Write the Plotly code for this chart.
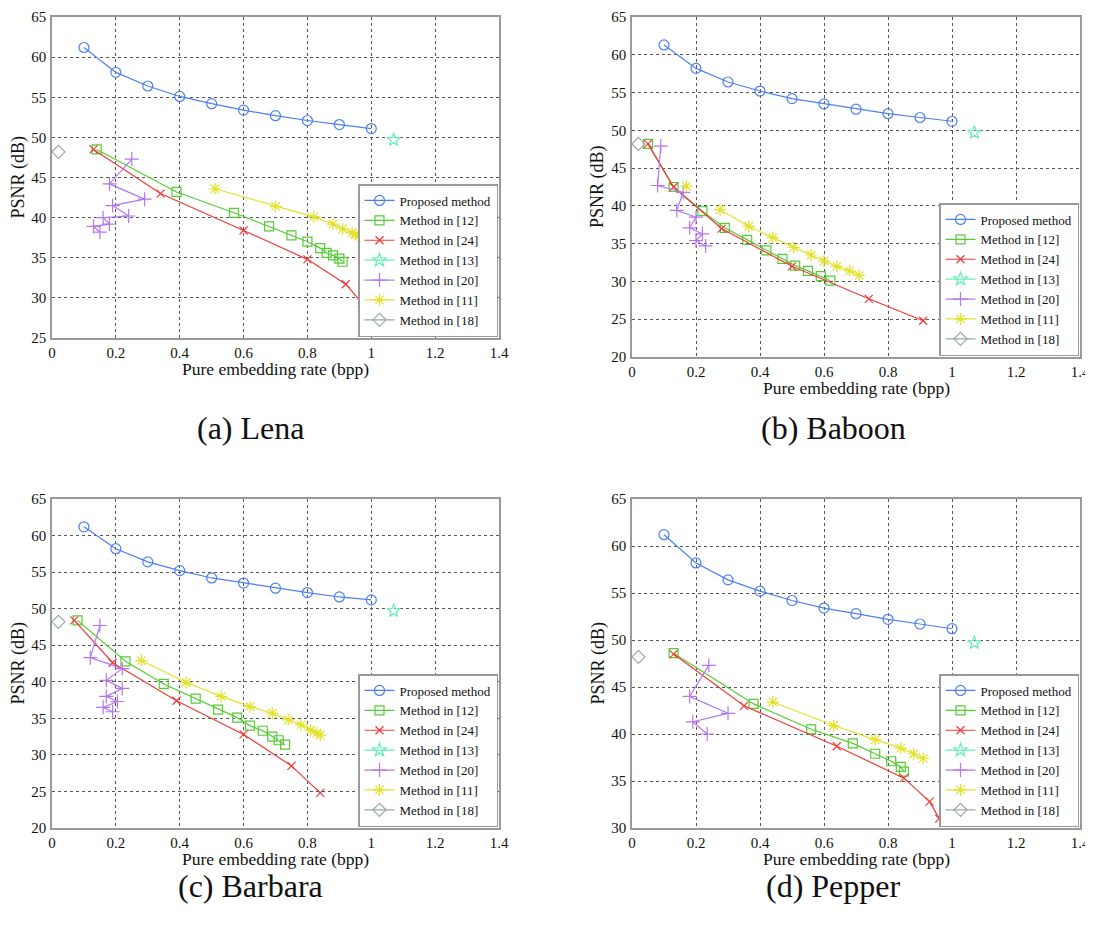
import plotly.graph_objects as go

# ---------------- data ----------------
rate_prop = [0.1, 0.2, 0.3, 0.4, 0.5, 0.6, 0.7, 0.8, 0.9, 1.0]
method_names = ["Proposed method", "Method in [12]", "Method in [24]", "Method in [13]",
                "Method in [20]", "Method in [11]", "Method in [18]"]
captions = ["(a) Lena", "(b) Baboon", "(c) Barbara", "(d) Pepper"]
y_ranges = [[25, 65], [20, 65], [20, 65], [30, 65]]

m13_x = [1.07]
m13_y = [49.7]
m18_x = [0.02]
m18_y = [48.2]

# Lena
lena_prop = [61.2, 58.1, 56.4, 55.1, 54.2, 53.4, 52.7, 52.1, 51.6, 51.1]
lena_m12_x = [0.14, 0.39, 0.57, 0.68, 0.75, 0.80, 0.84, 0.86, 0.88, 0.90, 0.91]
lena_m12_y = [48.5, 43.2, 40.6, 38.9, 37.8, 37.0, 36.2, 35.6, 35.3, 34.9, 34.5]
lena_m24_x = [0.13, 0.34, 0.60, 0.80, 0.92, 0.97]
lena_m24_y = [48.5, 43.0, 38.4, 34.8, 31.7, 29.4]
lena_m20_x = [0.25, 0.18, 0.29, 0.19, 0.24, 0.16, 0.18, 0.13, 0.15]
lena_m20_y = [47.3, 44.2, 42.3, 41.5, 40.2, 40.0, 39.2, 38.9, 38.2]
lena_m11_x = [0.51, 0.70, 0.82, 0.88, 0.91, 0.94, 0.95, 0.96, 0.97, 0.98]
lena_m11_y = [43.6, 41.4, 40.1, 39.2, 38.6, 38.1, 37.9, 37.7, 37.5, 37.3]

# Baboon
bab_prop = [61.3, 58.2, 56.4, 55.2, 54.2, 53.5, 52.8, 52.2, 51.7, 51.2]
bab_m12_x = [0.05, 0.13, 0.22, 0.29, 0.36, 0.42, 0.47, 0.51, 0.55, 0.59, 0.62]
bab_m12_y = [48.2, 42.5, 39.3, 37.1, 35.5, 34.1, 33.0, 32.1, 31.4, 30.7, 30.1]
bab_m24_x = [0.05, 0.13, 0.28, 0.50, 0.74, 0.91]
bab_m24_y = [48.2, 42.5, 37.0, 32.0, 27.7, 24.8]
bab_m20_x = [0.09, 0.08, 0.16, 0.14, 0.20, 0.18, 0.22, 0.20, 0.23]
bab_m20_y = [47.9, 42.7, 41.8, 39.4, 38.5, 37.1, 36.3, 35.4, 34.7]
bab_m11_x = [0.17, None, 0.275, 0.365, 0.44, 0.505, 0.56, 0.60, 0.64, 0.68, 0.71]
bab_m11_y = [42.6, None, 39.5, 37.3, 35.8, 34.5, 33.5, 32.7, 32.0, 31.4, 30.8]

# Barbara
bar_prop = [61.2, 58.2, 56.4, 55.2, 54.2, 53.5, 52.8, 52.2, 51.6, 51.2]
bar_m12_x = [0.08, 0.23, 0.35, 0.45, 0.52, 0.58, 0.62, 0.66, 0.69, 0.71, 0.73]
bar_m12_y = [48.4, 42.8, 39.7, 37.7, 36.2, 35.1, 34.0, 33.3, 32.5, 32.0, 31.4]
bar_m24_x = [0.07, 0.19, 0.39, 0.60, 0.75, 0.84]
bar_m24_y = [48.4, 42.6, 37.4, 32.8, 28.5, 24.8]
bar_m20_x = [0.15, 0.12, 0.22, 0.17, 0.22, 0.17, 0.205, 0.16, 0.19]
bar_m20_y = [47.7, 43.3, 41.8, 40.2, 39.1, 38.0, 37.3, 36.5, 35.9]
bar_m11_x = [0.28, 0.42, 0.53, 0.62, 0.69, 0.74, 0.78, 0.81, 0.83, 0.84]
bar_m11_y = [42.9, 39.9, 38.0, 36.6, 35.7, 34.8, 34.1, 33.4, 33.0, 32.7]

# Pepper
pep_prop = [61.2, 58.2, 56.4, 55.2, 54.2, 53.4, 52.8, 52.2, 51.7, 51.2]
pep_m12_x = [0.13, 0.38, 0.56, 0.69, 0.76, 0.81, 0.84, 0.85]
pep_m12_y = [48.6, 43.2, 40.5, 39.0, 37.9, 37.1, 36.5, 36.0]
pep_m24_x = [0.13, 0.35, 0.64, 0.85, 0.93, 0.96]
pep_m24_y = [48.5, 43.0, 38.7, 35.3, 32.8, 31.0]
pep_m20_x = [0.24, 0.18, 0.30, 0.19, 0.235]
pep_m20_y = [47.3, 44.0, 42.2, 41.3, 40.0]
pep_m11_x = [0.44, 0.63, 0.76, 0.84, 0.88, 0.91]
pep_m11_y = [43.4, 40.9, 39.4, 38.5, 37.9, 37.4]

panels = [
    (lena_prop, lena_m12_x, lena_m12_y, lena_m24_x, lena_m24_y, lena_m20_x, lena_m20_y, lena_m11_x, lena_m11_y),
    (bab_prop, bab_m12_x, bab_m12_y, bab_m24_x, bab_m24_y, bab_m20_x, bab_m20_y, bab_m11_x, bab_m11_y),
    (bar_prop, bar_m12_x, bar_m12_y, bar_m24_x, bar_m24_y, bar_m20_x, bar_m20_y, bar_m11_x, bar_m11_y),
    (pep_prop, pep_m12_x, pep_m12_y, pep_m24_x, pep_m24_y, pep_m20_x, pep_m20_y, pep_m11_x, pep_m11_y),
]

# ---------------- styles ----------------
W, H = 1093, 937
OFF = 8  # page body margin of the browser
FONT = "Liberation Serif"
colors = ["#4d7ff2", "#55cc33", "#f23a3a", "#66eeb4", "#b477f0", "#e2e22a", "#99a8a8"]
symbols = ["circle-open", "square-open", "x-thin-open", "star-open", "cross-thin-open",
           "asterisk-open", "diamond-open"]
msizes = [10, 9, 8, 10, 10, 10, 10]

# target pixel boxes of the four plot areas: (left, right, top, bottom)
boxes = [(52, 499, 17, 338), (632, 1080, 17, 357), (52, 499, 499, 828), (632, 1080, 499, 828)]
title_gap = [31, 31, 31, 31]
caption_pos = [(250, 428), (833, 428), (250, 886), (833, 886)]


def px(v):
    return (v - OFF) / W


def py(v):
    return 1 - (v - OFF) / H


fig = go.Figure()
layout = dict(width=W, height=H, margin=dict(l=0, r=0, t=0, b=0, pad=0),
              paper_bgcolor="white", plot_bgcolor="white",
              font=dict(family=FONT, size=17, color="#111"), showlegend=True)
annotations = []

for i, data in enumerate(panels):
    prop, x12, y12, x24, y24, x20, y20, x11, y11 = data
    k = "" if i == 0 else str(i + 1)
    xa, ya = "x" + k, "y" + k
    lg = "legend" + k
    series = [(rate_prop, prop), (x12, y12), (x24, y24), (m13_x, m13_y),
              (x20, y20), (x11, y11), (m18_x, m18_y)]
    for j, (xs, ys) in enumerate(series):
        fig.add_trace(go.Scatter(
            x=xs, y=ys, name=method_names[j], xaxis=xa, yaxis=ya, legend=lg,
            mode="lines+markers",
            line=dict(color=colors[j], width=1.2),
            marker=dict(symbol=symbols[j], size=msizes[j], color=colors[j],
                        line=dict(color=colors[j], width=1.2)),
        ))
    l, r, t, b = boxes[i]
    axcommon = dict(showline=True, mirror=True, linecolor="#999", linewidth=1.5,
                    showgrid=True, gridcolor="#555", griddash="dot", gridwidth=1,
                    zeroline=False, ticks="", automargin=False,
                    ticklabeloverflow="allow",
                    tickfont=dict(size=15, family=FONT, color="#111"))
    layout["xaxis" + k] = dict(axcommon, domain=[px(l), px(r)], range=[0, 1.4], dtick=0.2,
                               anchor=ya, ticklabelstandoff=0)
    layout["yaxis" + k] = dict(axcommon, domain=[py(b), py(t)], range=y_ranges[i],
                               dtick=5, anchor=xa, ticklabelstandoff=1)
    layout[lg] = dict(x=px(r - 1), y=py(b - 1), xanchor="right", yanchor="bottom",
                      bgcolor="white", bordercolor="#999", borderwidth=1.5,
                      font=dict(family=FONT, size=13, color="#111"),
                      tracegroupgap=0, itemwidth=30)
    annotations.append(dict(text="Pure embedding rate (bpp)", x=px((l + r) / 2),
                            y=py(b + title_gap[i]), xref="paper", yref="paper",
                            showarrow=False, font=dict(size=17.5, family=FONT, color="#111"),
                            xanchor="center", yanchor="middle"))
    annotations.append(dict(text="PSNR (dB)", x=px(l - 34), y=py((t + b) / 2),
                            xref="paper", yref="paper", textangle=-90,
                            showarrow=False, font=dict(size=18, family=FONT, color="#111"),
                            xanchor="center", yanchor="middle"))
    cx, cy = caption_pos[i]
    annotations.append(dict(text=captions[i], x=px(cx), y=py(cy), xref="paper", yref="paper",
                            showarrow=False, font=dict(size=32, family=FONT, color="#111"),
                            xanchor="center", yanchor="middle"))

layout["annotations"] = annotations
fig.update_layout(**layout)
fig.write_html("out.html")
